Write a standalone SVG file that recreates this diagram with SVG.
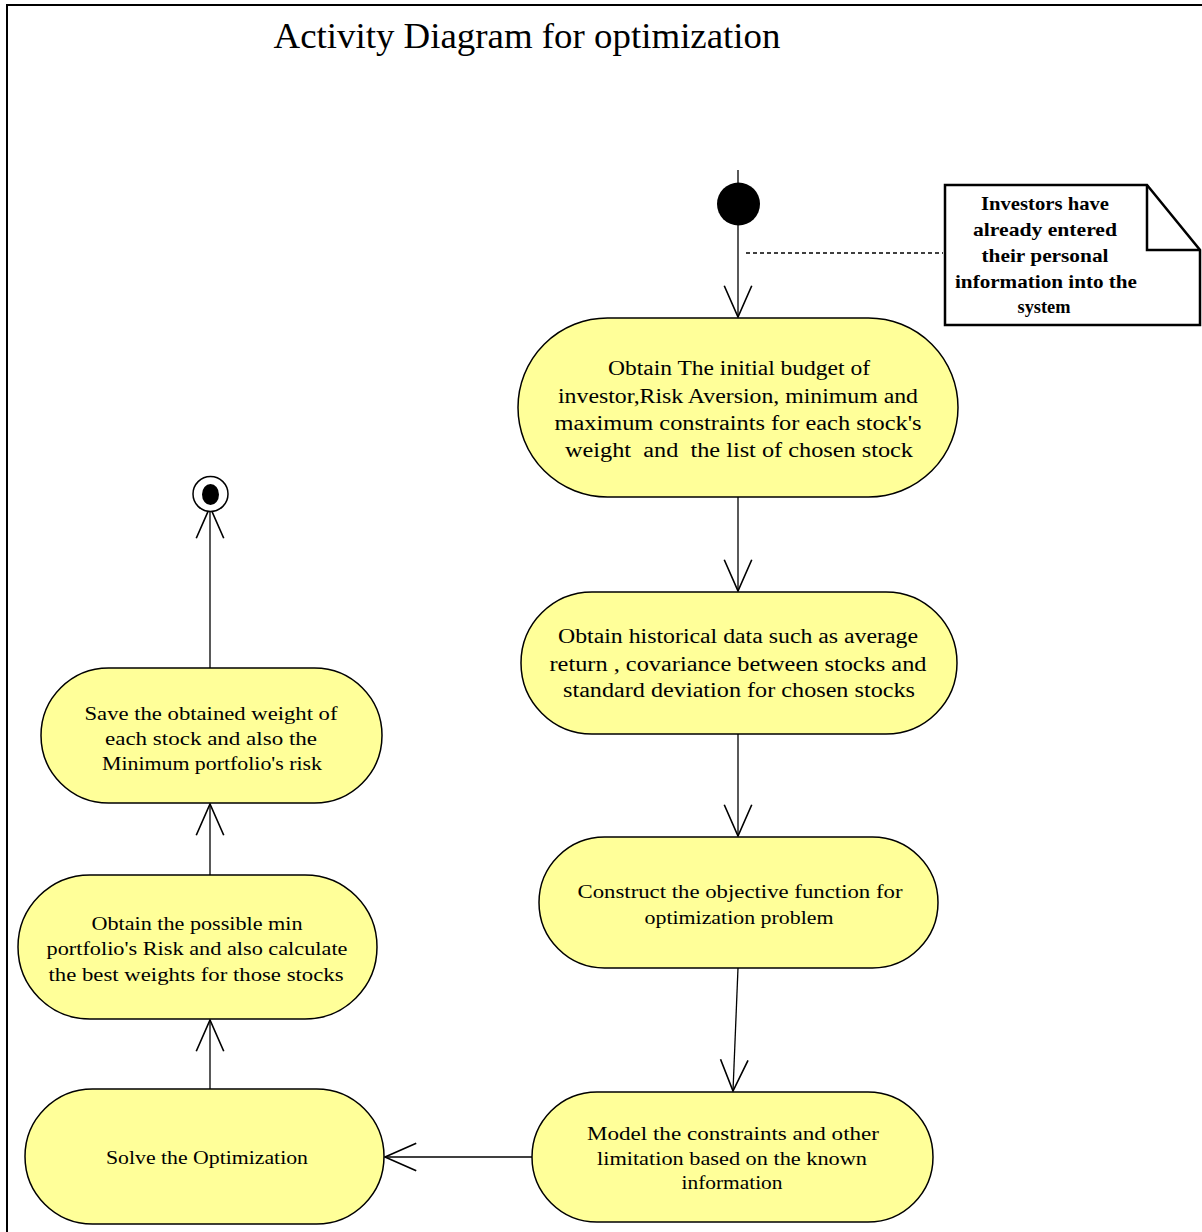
<svg xmlns="http://www.w3.org/2000/svg" width="1202" height="1232" viewBox="0 0 1202 1232">
<style>
.node{fill:#FFFF99;stroke:#000;stroke-width:1.5}
.t{font-family:"Liberation Serif","Times New Roman",serif;text-anchor:middle;fill:#000}
.big{font-size:20px}
.mid{font-size:18.5px}
.note{font-family:"Liberation Serif","Times New Roman",serif;font-weight:bold;font-size:19px;text-anchor:middle;fill:#000}
.conn{stroke:#000;stroke-width:1.3;fill:none}
</style>
<defs>
<marker id="arr" markerUnits="userSpaceOnUse" markerWidth="40" markerHeight="40" refX="0" refY="0" viewBox="-30 -15 32 30" orient="auto" overflow="visible">
<path d="M-25,-11 L0,0 L-25,11" fill="none" stroke="#000" stroke-width="1.3"/>
</marker>
</defs>
<rect x="0" y="0" width="1202" height="1232" fill="#fff"/>
<g id="frame">
<path d="M7,1232 L7,5 L1202,5" fill="none" stroke="#000" stroke-width="2"/>
</g>
<text class="t" x="527" y="48" font-size="36" textLength="507" lengthAdjust="spacingAndGlyphs">Activity Diagram for optimization</text>

<g id="connectors">
<line class="conn" x1="738" y1="170" x2="738" y2="186"/>
<line class="conn" x1="738" y1="224" x2="738" y2="317" marker-end="url(#arr)"/>
<line class="conn" x1="746" y1="253" x2="943" y2="253" stroke-dasharray="4,3"/>
<line class="conn" x1="738" y1="497" x2="738" y2="591" marker-end="url(#arr)"/>
<line class="conn" x1="738" y1="734" x2="738" y2="836" marker-end="url(#arr)"/>
<line class="conn" x1="738" y1="968" x2="733" y2="1091" marker-end="url(#arr)"/>
<line class="conn" x1="532" y1="1157" x2="385" y2="1157" marker-end="url(#arr)"/>
<line class="conn" x1="210" y1="1089" x2="210" y2="1020" marker-end="url(#arr)"/>
<line class="conn" x1="210" y1="875" x2="210" y2="804" marker-end="url(#arr)"/>
<line class="conn" x1="210" y1="668" x2="210" y2="507" marker-end="url(#arr)"/>
</g>

<g id="start">
<circle cx="738.5" cy="204" r="21.5" fill="#000"/>
</g>

<g id="end">
<circle cx="210.5" cy="494" r="17.5" fill="#fff" stroke="#000" stroke-width="1.5"/>
<ellipse cx="210.5" cy="494.5" rx="8.5" ry="10.5" fill="#000"/>
</g>

<g id="note">
<path d="M945,185 L1147,185 L1200,250 L1200,325 L945,325 Z" fill="#fff" stroke="#000" stroke-width="2.5"/>
<path d="M1147,185 L1147,250 L1200,250" fill="none" stroke="#000" stroke-width="2.5"/>
<text class="note" x="1045" y="210" textLength="128" lengthAdjust="spacingAndGlyphs">Investors have</text>
<text class="note" x="1045" y="236" textLength="144" lengthAdjust="spacingAndGlyphs">already entered</text>
<text class="note" x="1045" y="262" textLength="127" lengthAdjust="spacingAndGlyphs">their personal</text>
<text class="note" x="1046" y="288" textLength="182" lengthAdjust="spacingAndGlyphs">information into the</text>
<text class="note" x="1044" y="313" textLength="53" lengthAdjust="spacingAndGlyphs">system</text>
</g>

<g id="nodeA">
<rect class="node" x="518" y="318" width="440" height="179" rx="89.5" ry="89.5"/>
<text class="t big" x="739" y="375" textLength="262" lengthAdjust="spacingAndGlyphs">Obtain The initial budget of</text>
<text class="t big" x="738" y="403" textLength="360" lengthAdjust="spacingAndGlyphs">investor,Risk Aversion, minimum and</text>
<text class="t big" x="738" y="430" textLength="367" lengthAdjust="spacingAndGlyphs">maximum constraints for each stock's</text>
<text class="t big" x="739" y="457" textLength="348" lengthAdjust="spacingAndGlyphs" xml:space="preserve">weight  and  the list of chosen stock</text>
</g>

<g id="nodeB">
<rect class="node" x="521" y="592" width="436" height="142" rx="71" ry="71"/>
<text class="t big" x="738" y="643" textLength="360" lengthAdjust="spacingAndGlyphs">Obtain historical data such as average</text>
<text class="t big" x="738" y="671" textLength="377" lengthAdjust="spacingAndGlyphs">return , covariance between stocks and</text>
<text class="t big" x="739" y="697" textLength="352" lengthAdjust="spacingAndGlyphs">standard deviation for chosen stocks</text>
</g>

<g id="nodeC">
<rect class="node" x="539" y="837" width="399" height="131" rx="65.5" ry="65.5"/>
<text class="t mid" x="740" y="898" textLength="325" lengthAdjust="spacingAndGlyphs">Construct the objective function for</text>
<text class="t mid" x="739" y="924" textLength="189" lengthAdjust="spacingAndGlyphs">optimization problem</text>
</g>

<g id="nodeD">
<rect class="node" x="532" y="1092" width="401" height="130" rx="65" ry="65"/>
<text class="t mid" x="733" y="1140" textLength="292" lengthAdjust="spacingAndGlyphs">Model the constraints and other</text>
<text class="t mid" x="732" y="1165" textLength="270" lengthAdjust="spacingAndGlyphs">limitation based on the known</text>
<text class="t mid" x="732" y="1189" textLength="101" lengthAdjust="spacingAndGlyphs">information</text>
</g>

<g id="nodeE">
<rect class="node" x="25" y="1089" width="359" height="135" rx="67.5" ry="67.5"/>
<text class="t mid" x="207" y="1164" textLength="202" lengthAdjust="spacingAndGlyphs">Solve the Optimization</text>
</g>

<g id="nodeG">
<rect class="node" x="18" y="875" width="359" height="144" rx="72" ry="72"/>
<text class="t mid" x="197" y="930" textLength="211" lengthAdjust="spacingAndGlyphs">Obtain the possible min</text>
<text class="t mid" x="197" y="955" textLength="301" lengthAdjust="spacingAndGlyphs">portfolio's Risk and also calculate</text>
<text class="t mid" x="196" y="981" textLength="295" lengthAdjust="spacingAndGlyphs">the best weights for those stocks</text>
</g>

<g id="nodeF">
<rect class="node" x="41" y="668" width="341" height="135" rx="67.5" ry="67.5"/>
<text class="t mid" x="211" y="720" textLength="253" lengthAdjust="spacingAndGlyphs">Save the obtained weight of</text>
<text class="t mid" x="211" y="745" textLength="212" lengthAdjust="spacingAndGlyphs">each stock and also the</text>
<text class="t mid" x="212" y="770" textLength="220" lengthAdjust="spacingAndGlyphs">Minimum portfolio's risk</text>
</g>
</svg>
